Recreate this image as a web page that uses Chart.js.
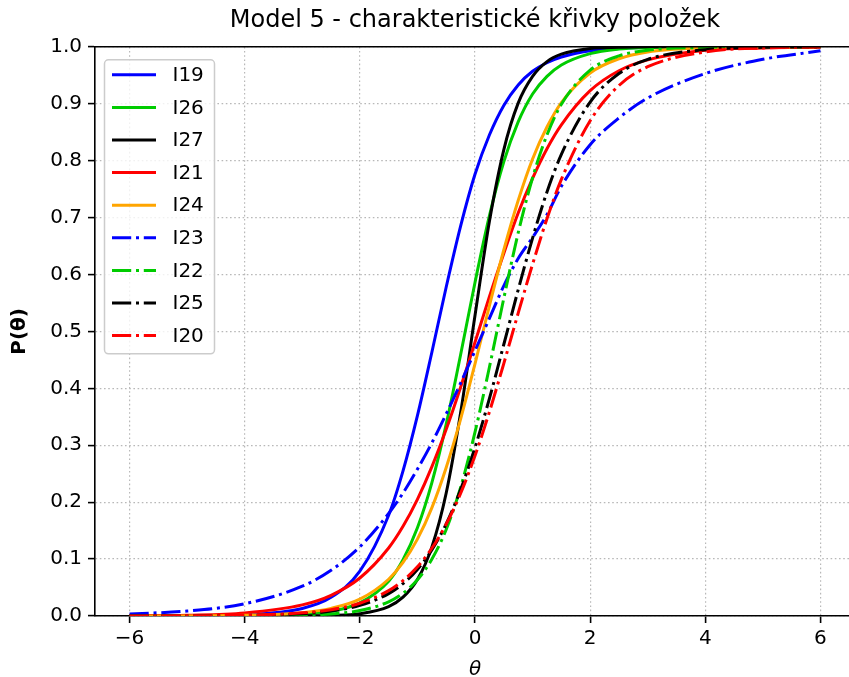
<!DOCTYPE html>
<html>
<head>
<meta charset="utf-8">
<script src="https://cdn.jsdelivr.net/npm/chart.js@4.4.1/dist/chart.umd.min.js"></script>
<style>
  html, body { margin: 0; padding: 0; background: #fff; overflow: hidden; }
  canvas { display: block; }
</style>
</head>
<body>
<canvas id="icc" width="950" height="700"></canvas>
<script>
const theta = [-6, -5, -4, -3, -2.5, -2, -1.5, -1.25, -1, -0.75, -0.5, -0.25, 0, 0.25, 0.5, 0.75, 1, 1.25, 1.5, 2, 2.5, 3, 4, 5, 6];

const I19 = [0.0001, 0.0003, 0.0021, 0.0133, 0.0328, 0.0787, 0.177, 0.255, 0.352, 0.463, 0.578, 0.685, 0.776, 0.845, 0.897, 0.933, 0.957, 0.972, 0.982, 0.993, 0.997, 0.999, 1.0, 1.0, 1.0];
const I26 = [0, 0.0001, 0.0004, 0.003, 0.0083, 0.023, 0.061, 0.099, 0.155, 0.234, 0.337, 0.459, 0.586, 0.703, 0.798, 0.868, 0.917, 0.948, 0.968, 0.988, 0.996, 0.9985, 1, 1, 1];
const I27 = [0, 0, 0, 0.0003, 0.001, 0.0041, 0.0165, 0.033, 0.064, 0.121, 0.216, 0.357, 0.528, 0.693, 0.819, 0.901, 0.948, 0.974, 0.987, 0.997, 0.999, 1, 1, 1, 1];
const I21 = [0.0004, 0.0015, 0.0055, 0.0195, 0.0364, 0.0668, 0.1195, 0.1575, 0.205, 0.262, 0.328, 0.402, 0.481, 0.561, 0.637, 0.708, 0.769, 0.821, 0.863, 0.923, 0.958, 0.977, 0.994, 0.998, 0.9995];
const I24 = [0.0001, 0.0002, 0.0012, 0.0059, 0.0134, 0.0296, 0.0646, 0.094, 0.135, 0.19, 0.261, 0.346, 0.443, 0.545, 0.643, 0.73, 0.803, 0.859, 0.902, 0.954, 0.979, 0.991, 0.998, 0.9996, 0.9999];
const I23 = [0.0035, 0.0087, 0.0215, 0.0523, 0.0803, 0.1215, 0.18, 0.216, 0.258, 0.304, 0.355, 0.409, 0.466, 0.523, 0.58, 0.628, 0.665, 0.705, 0.755, 0.828, 0.875, 0.91, 0.953, 0.978, 0.993];
const I22 = [0, 0, 0.0002, 0.0014, 0.0036, 0.0096, 0.0249, 0.04, 0.0636, 0.0997, 0.152, 0.226, 0.323, 0.437, 0.558, 0.673, 0.77, 0.845, 0.899, 0.959, 0.984, 0.994, 0.999, 1, 1];
const I25 = [0, 0.0002, 0.0009, 0.004, 0.0086, 0.0186, 0.0394, 0.057, 0.0818, 0.116, 0.162, 0.222, 0.296, 0.382, 0.477, 0.573, 0.664, 0.745, 0.811, 0.903, 0.953, 0.978, 0.995, 0.999, 0.9998];
const I20 = [0.0001, 0.0003, 0.0013, 0.0055, 0.0111, 0.0224, 0.0445, 0.0623, 0.0865, 0.119, 0.1615, 0.2155, 0.2815, 0.3585, 0.4435, 0.532, 0.618, 0.698, 0.767, 0.87, 0.932, 0.965, 0.991, 0.998, 0.9995];

const itemNames = ["I19", "I26", "I27", "I21", "I24", "I23", "I22", "I25", "I20"];
const itemValues = [I19, I26, I27, I21, I24, I23, I22, I25, I20];
const itemColors = ["#0000ff", "#00cc00", "#000000", "#ff0000", "#ffa500", "#0000ff", "#00cc00", "#000000", "#ff0000"];
const itemDashed = [false, false, false, false, false, true, true, true, true];

const xTicks = [-6, -4, -2, 0, 2, 4, 6];
const yTicks = [0, 0.1, 0.2, 0.3, 0.4, 0.5, 0.6, 0.7, 0.8, 0.9, 1.0];

const DASHDOT = [19.2, 4.8, 3, 4.8];

Chart.defaults.font.family = "'DejaVu Sans', sans-serif";
Chart.defaults.color = "#000";

const datasets = itemNames.map((name, i) => ({
    label: name,
    data: theta.map((t, k) => ({ x: t, y: itemValues[i][k] })),
    borderColor: itemColors[i],
    backgroundColor: itemColors[i],
    borderWidth: 3,
    borderDash: itemDashed[i] ? DASHDOT : [],
    borderCapStyle: "butt",
    pointRadius: 0,
    fill: false,
    cubicInterpolationMode: "monotone",
    order: -i
}));

// top spine + legend box in the upper left corner, like matplotlib
const framePlugin = {
    id: "frame",
    afterDatasetsDraw(chart) {
        const ctx = chart.ctx;
        const a = chart.chartArea;
        ctx.save();
        ctx.strokeStyle = "#000";
        ctx.lineWidth = 1.6;
        ctx.beginPath();
        ctx.moveTo(a.left, a.top);
        ctx.lineTo(a.right, a.top);
        ctx.stroke();

        // legend
        const bx = a.left + 9.5, by = a.top + 13, bw = 110, bh = 294;
        ctx.beginPath();
        ctx.roundRect(bx, by, bw, bh, 4);
        ctx.fillStyle = "rgba(255,255,255,0.8)";
        ctx.fill();
        ctx.strokeStyle = "#cccccc";
        ctx.lineWidth = 1.5;
        ctx.stroke();

        ctx.font = "20px 'DejaVu Sans'";
        ctx.textBaseline = "middle";
        ctx.textAlign = "left";
        chart.data.datasets.forEach((ds, i) => {
            const y = by + 15 + i * 32.6;
            ctx.beginPath();
            ctx.setLineDash(ds.borderDash);
            ctx.strokeStyle = ds.borderColor;
            ctx.lineWidth = 3;
            ctx.lineCap = "butt";
            ctx.moveTo(bx + 7.5, y);
            ctx.lineTo(bx + 51.5, y);
            ctx.stroke();
            ctx.setLineDash([]);
            ctx.fillStyle = "#000";
            ctx.fillText(ds.label, bx + 68, y + 1);
        });
        ctx.restore();
    }
};

const gridOpts = {
    color: "#b8b8b8",
    lineWidth: 1.2,
    tickColor: "#000",
    tickWidth: 1.6,
    tickLength: 7,
    tickBorderDash: []
};
// in v4 border.dash is the dash of the grid lines, the axis line stays solid
const borderOpts = { display: true, color: "#000", width: 1.6, dash: [1.6, 2.6] };

new Chart(document.getElementById("icc"), {
    type: "line",
    data: { datasets: datasets },
    options: {
        responsive: false,
        devicePixelRatio: 1,
        animation: false,
        layout: { padding: 0 },
        plugins: {
            legend: { display: false },
            tooltip: { enabled: false },
            title: {
                display: true,
                text: "Model 5 - charakteristické křivky položek",
                font: { size: 24, weight: "normal" },
                color: "#000",
                padding: { top: 6, bottom: 12 }
            }
        },
        scales: {
            x: {
                type: "linear",
                min: -6.6,
                max: 6.6,
                afterBuildTicks: s => { s.ticks = xTicks.map(v => ({ value: v })); },
                afterFit: s => { s.height = 84; },
                ticks: {
                    font: { size: 20 },
                    padding: 4,
                    maxRotation: 0,
                    callback: v => (v < 0 ? "\u2212" + Math.abs(v) : String(v))
                },
                grid: gridOpts,
                border: borderOpts,
                title: {
                    display: true,
                    text: "θ",
                    font: { size: 20, style: "italic" },
                    padding: { top: 0, bottom: 18 }
                }
            },
            y: {
                type: "linear",
                min: 0,
                max: 1,
                afterBuildTicks: s => { s.ticks = yTicks.map(v => ({ value: v })); },
                afterFit: s => { s.width = 95; },
                ticks: {
                    font: { size: 20 },
                    padding: 6,
                    callback: v => v.toFixed(1)
                },
                grid: gridOpts,
                border: borderOpts,
                title: {
                    display: true,
                    text: "P(θ)",
                    font: { size: 20, weight: "bold" },
                    padding: { top: 8, bottom: 0 }
                }
            },
            y2: {
                type: "linear",
                position: "right",
                min: 0,
                max: 1,
                afterFit: s => { s.width = 95; },
                ticks: { display: false },
                grid: { display: false },
                border: { display: true, color: "#000", width: 1.6 }
            }
        }
    },
    plugins: [framePlugin]
});
</script>
</body>
</html>
